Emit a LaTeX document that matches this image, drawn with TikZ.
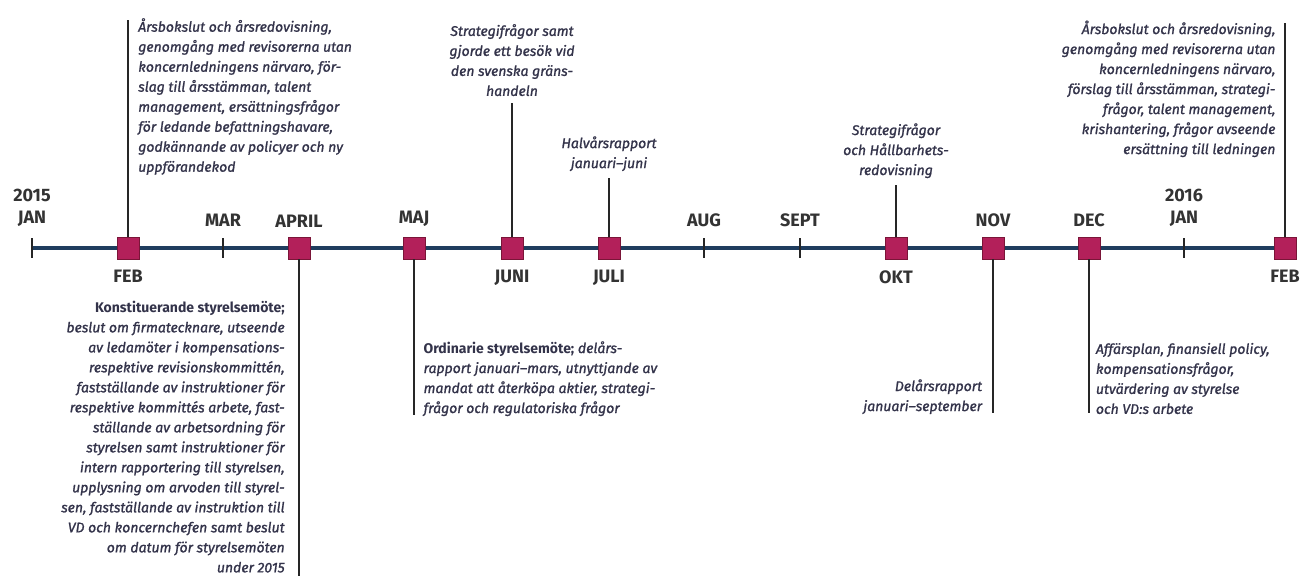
\documentclass[tikz,border=0pt]{standalone}
\usepackage{fontspec}
\setmainfont{Fira Sans}[ItalicFeatures={FakeBold=1.2}]
\usetikzlibrary{arrows,calc,positioning,backgrounds}
\definecolor{axel}{HTML}{1F3D5E}
\definecolor{motefarg}{HTML}{B3205A}
\definecolor{motekant}{HTML}{7A1538}
\definecolor{brodtext}{HTML}{33334A}
\tikzstyle{mote}=[draw=motekant,fill=motefarg,line width=0.6pt,minimum size=16.5pt,inner sep=0pt]
\tikzstyle{streck}=[fill=black!85,minimum width=2.2pt,minimum height=15pt,inner sep=0pt]
\tikzstyle{manad}=[font=\fontsize{13.5}{16.5}\selectfont\bfseries,text=black!80,inner sep=0pt,align=center]
\tikzstyle{txt}=[font=\fontsize{10.5}{15}\selectfont\itshape,text=brodtext,inner sep=0pt]
\tikzstyle{stav}=[draw=black!85,line width=1.5pt]

\begin{document}
\begin{tikzpicture}[
      x=0.75pt,y=0.75pt,
      >=latex'
    ]
      \useasboundingbox (0,0) rectangle (1300,576);

      % the months
      \node [streck] (jan)  at (32,328)   {};
      \node [mote]   (feb)  at (128,328)  {};
      \node [streck] (mar)  at (223,328)  {};
      \node [mote]   (apr)  at (299,328)  {};
      \node [mote]   (maj)  at (414,328)  {};
      \node [mote]   (jun)  at (512,328)  {};
      \node [mote]   (jul)  at (609,328)  {};
      \node [streck] (aug)  at (704,328)  {};
      \node [streck] (sep)  at (800,328)  {};
      \node [mote]   (okt)  at (896,328)  {};
      \node [mote]   (nov)  at (993,328)  {};
      \node [mote]   (dec)  at (1089,328) {};
      \node [streck] (jan2) at (1184,328) {};
      \node [mote]   (feb2) at (1285,328) {};

      \begin{scope}[on background layer]
        \fill[white] (0,0) rectangle (1300,576);
        \draw[axel,line width=2.6pt] (jan.center) -- (feb2.center);
      \end{scope}

      \node [manad] (l_jan)  [above=8pt of jan]  {2015\\JAN};
      \node [manad] (l_feb)  [below=8pt of feb]  {FEB};
      \node [manad] (l_mar)  [above=8pt of mar]  {MAR};
      \node [manad] (l_apr)  [above=7pt of apr]  {APRIL};
      \node [manad] (l_maj)  [above=7pt of maj]  {MAJ};
      \node [manad] (l_jun)  [below=8pt of jun]  {JUNI};
      \node [manad] (l_jul)  [below=8pt of jul]  {JULI};
      \node [manad] (l_aug)  [above=8pt of aug]  {AUG};
      \node [manad] (l_sep)  [above=8pt of sep]  {SEPT};
      \node [manad] (l_okt)  [below=8pt of okt]  {OKT};
      \node [manad] (l_nov)  [above=7pt of nov]  {NOV};
      \node [manad] (l_dec)  [above=7pt of dec]  {DEC};
      \node [manad] (l_jan2) [above=8pt of jan2] {2016\\JAN};
      \node [manad] (l_feb2) [below=8pt of feb2] {FEB};

      % ends of the stems
      \coordinate (ft)  at (128,556);
      \coordinate (ab)  at (299,0);
      \coordinate (mb)  at (414,161);
      \coordinate (jut) at (512,473);
      \coordinate (jlt) at (609,398);
      \coordinate (ot)  at (896,391);
      \coordinate (nb)  at (993,163);
      \coordinate (db)  at (1089,163);
      \coordinate (gt)  at (1285,553);

      \draw[stav] (feb) -- (ft);
      \draw[stav] (apr) -- (ab);
      \draw[stav] (maj) -- (mb);
      \draw[stav] (jun) -- (jut);
      \draw[stav] (jul) -- (jlt);
      \draw[stav] (okt) -- (ot);
      \draw[stav] (nov) -- (nb);
      \draw[stav] (dec) -- (db);
      \draw[stav] (feb2) -- (gt);

      \node [txt,align=left] (t_feb) [below right=-1.5pt and 7.5pt of ft]
        {Årsbokslut och årsredovisning,\\genomgång med revisorerna utan\\koncernledningens närvaro, för-\\slag till årsstämman, talent\\management, ersättningsfrågor\\för ledande befattningshavare,\\godkännande av policyer och ny\\uppförandekod};
      \node [txt,align=right] (t_apr) [below left=31pt and 2pt of apr]
        {\textup{\bfseries Konstituerande styrelsemöte;}\\beslut om firmatecknare, utseende\\av ledamöter i kompensations-\\respektive revisionskommittén,\\fastställande av instruktioner för\\respektive kommittés arbete, fast-\\ställande av arbetsordning för\\styrelsen samt instruktioner för\\intern rapportering till styrelsen,\\upplysning om arvoden till styrel-\\sen, fastställande av instruktion till\\VD och koncernchefen samt beslut\\om datum för styrelsemöten\\under 2015};
      \node [txt,align=left] (t_maj) [above right=-1pt and 7pt of mb]
        {\textup{\bfseries Ordinarie styrelsemöte;} delårs-\\rapport januari–mars, utnyttjande av\\mandat att återköpa aktier, strategi-\\frågor och regulatoriska frågor};
      \node [txt,align=center] (t_jun) [above=5pt of jut]
        {Strategifrågor samt\\gjorde ett besök vid\\den svenska gräns-\\handeln};
      \node [txt,align=center] (t_jul) [above=5pt of jlt]
        {Halvårsrapport\\januari–juni};
      \node [txt,align=center] (t_okt) [above=5pt of ot]
        {Strategifrågor\\och Hållbarhets-\\redovisning};
      \node [txt,align=right] (t_nov) [above left=-1pt and 8pt of nb]
        {Delårsrapport\\januari–september};
      \node [txt,align=left] (t_dec) [above right=-1pt and 5pt of db]
        {Affärsplan, finansiell policy,\\kompensationsfrågor,\\utvärdering av styrelse\\och VD:s arbete};
      \node [txt,align=right] (t_feb2) [below left=-2pt and 7pt of gt]
        {Årsbokslut och årsredovisning,\\genomgång med revisorerna utan\\koncernledningens närvaro,\\förslag till årsstämman, strategi-\\frågor, talent management,\\krishantering, frågor avseende\\ersättning till ledningen};
    \end{tikzpicture}
\end{document}
